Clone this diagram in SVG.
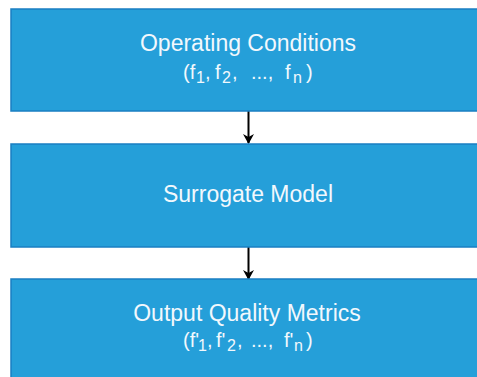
<svg xmlns="http://www.w3.org/2000/svg" width="477" height="377" viewBox="0 0 477 377">
<defs>
<style>
.box{fill:#259fd9;stroke:#1a7fc2;stroke-width:1.5}
.t{font-family:"Liberation Sans",Arial,sans-serif;font-size:23px;fill:#f2f8fd;text-anchor:middle}
.m{font-family:"Liberation Sans",Arial,sans-serif;font-size:20px;fill:#f2f8fd}
.s{font-size:16px}
.c{stroke:#000;stroke-width:2;fill:none}
</style>
<marker id="ah" markerWidth="10" markerHeight="11" refX="9" refY="5.5" orient="auto" markerUnits="userSpaceOnUse" viewBox="0 0 10 11">
<path d="M0,0 L10,5.5 L0,11 L3,5.5 z" fill="#000"/>
</marker>
</defs>
<rect width="477" height="377" fill="#ffffff"/>
<g id="connectors">
<line class="c" x1="248.5" y1="111" x2="248.5" y2="143" marker-end="url(#ah)"/>
<line class="c" x1="248.5" y1="247" x2="248.5" y2="279" marker-end="url(#ah)"/>
</g>
<g id="operating-conditions">
<rect class="box" x="11" y="9" width="480" height="102"/>
<text class="t" x="248" y="51">Operating Conditions</text>
<text class="m"><tspan x="183" y="79">(f</tspan><tspan class="s" x="196" y="83">1</tspan><tspan x="205" y="79">,</tspan><tspan x="215" y="79">f</tspan><tspan class="s" x="222" y="83">2</tspan><tspan x="232" y="79">,</tspan><tspan x="251" y="79">...,</tspan><tspan x="285" y="79">f</tspan><tspan class="s" x="293" y="83">n</tspan><tspan x="306" y="79">)</tspan></text>
</g>
<g id="surrogate-model">
<rect class="box" x="11" y="144" width="480" height="103"/>
<text class="t" x="248" y="202">Surrogate Model</text>
</g>
<g id="output-quality-metrics">
<rect class="box" x="11" y="279" width="480" height="110"/>
<text class="t" x="247" y="321">Output Quality Metrics</text>
<text class="m"><tspan x="183" y="347">(f'</tspan><tspan class="s" x="198" y="351">1</tspan><tspan x="207" y="347">,</tspan><tspan x="216" y="347">f'</tspan><tspan class="s" x="227" y="351">2</tspan><tspan x="237" y="347">,</tspan><tspan x="251" y="347">...,</tspan><tspan x="284" y="347">f'</tspan><tspan class="s" x="294" y="351">n</tspan><tspan x="306" y="347">)</tspan></text>
</g>
</svg>
